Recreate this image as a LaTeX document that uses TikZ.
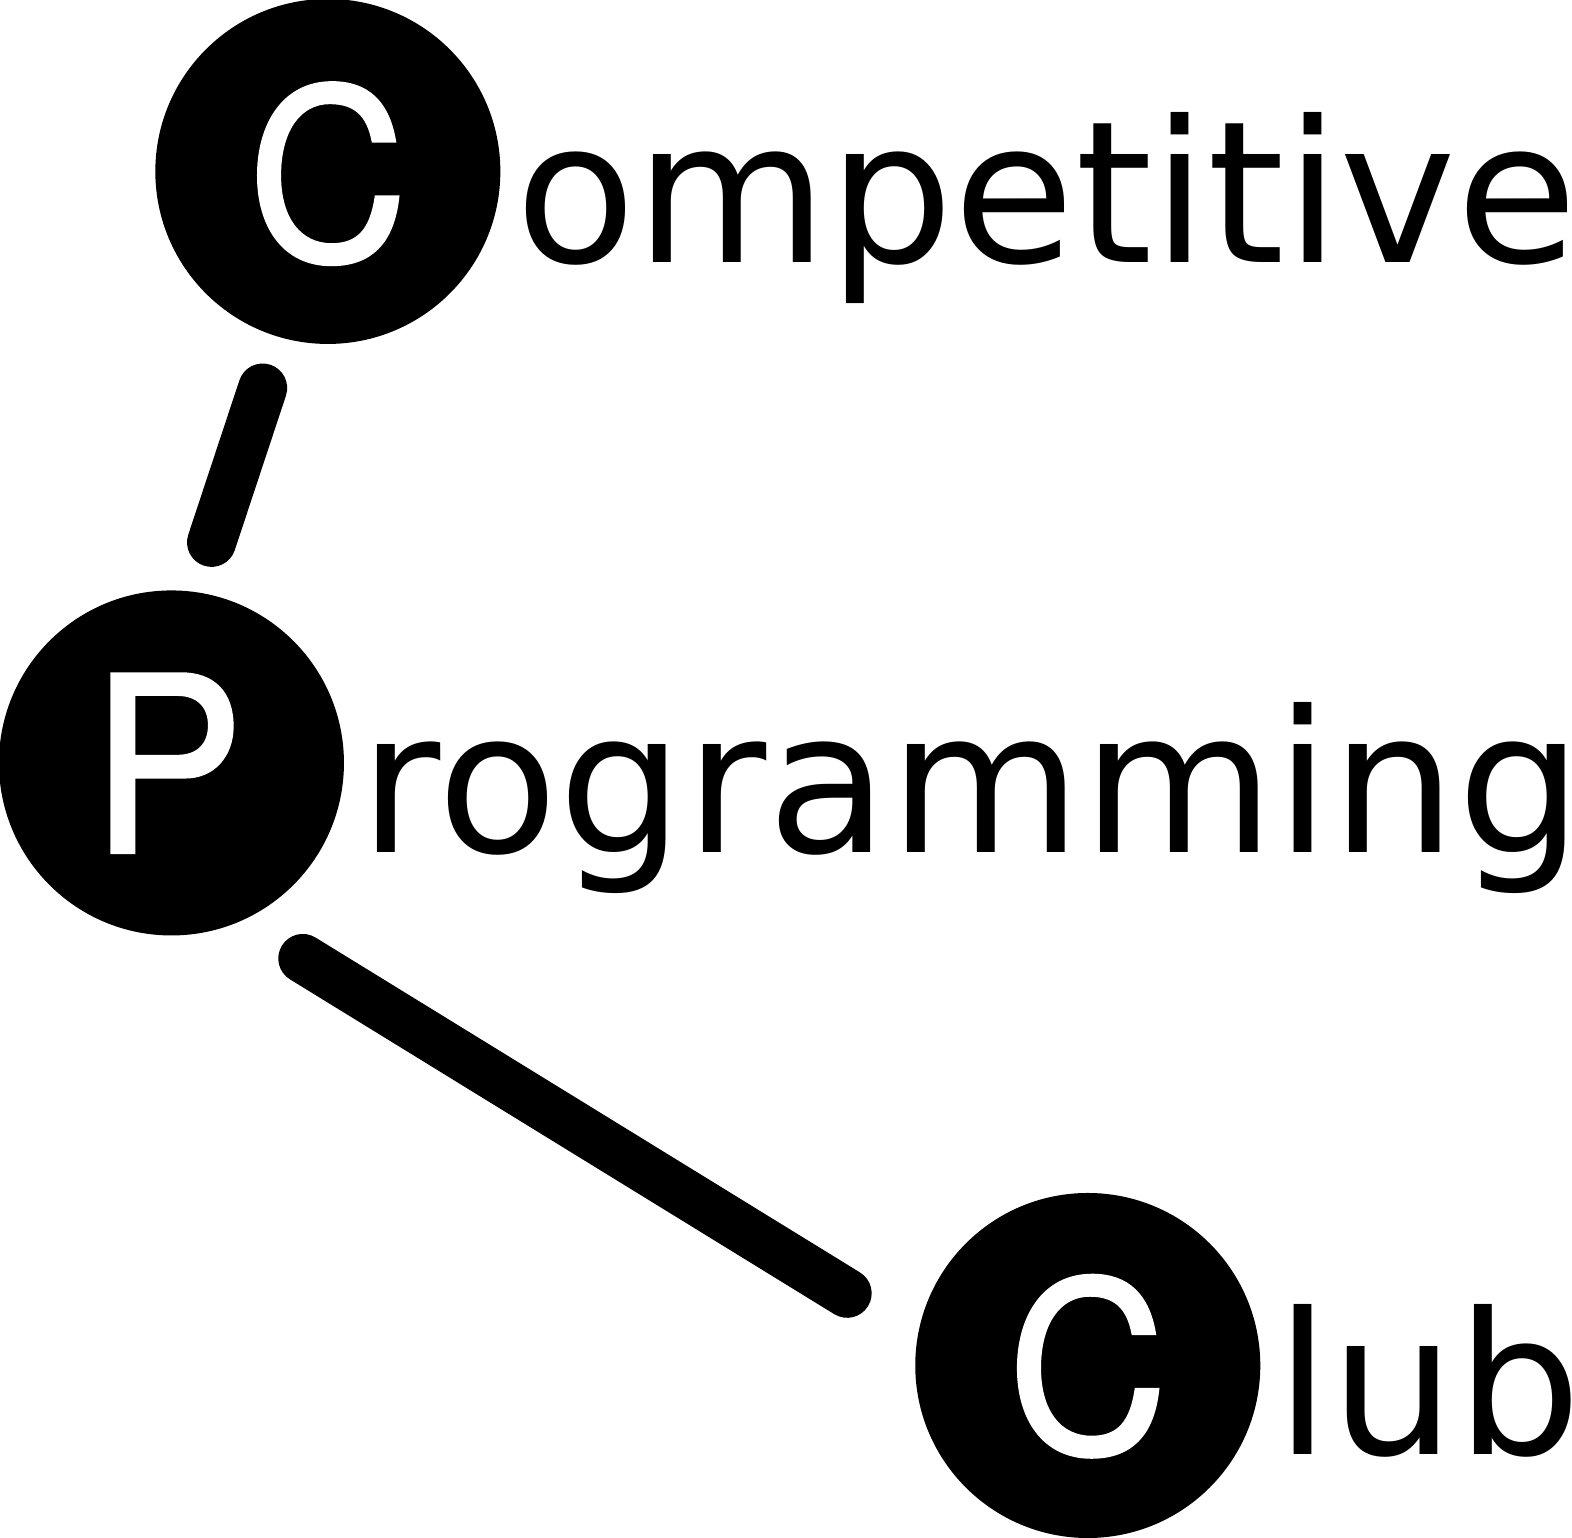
\documentclass[tikz,border=0pt]{standalone}
\usepackage{fontspec}
\setmainfont{DejaVu Sans}
\newfontfamily\initialfont[FakeStretch=0.93,FakeBold=1.5]{TeX Gyre Heros}
\newfontfamily\spacedfont[LetterSpace=0.4]{DejaVu Sans}
\tikzset{
    badge/.style = {circle, fill = black, minimum size = 3.45cm, inner sep = 0pt},
    initial/.style = {anchor = base, inner sep = 0pt, text = white, font = \initialfont\fontsize{67.5}{67.5}\selectfont},
    word/.style = {anchor = base west, inner sep = 0pt, font = \fontsize{56.2}{56.2}\selectfont}
}
\tikzset{bond/.style = {line width = 0.49cm, line cap = round}}
\begin{document}
\begin{tikzpicture}[x = 0.010025cm, y = -0.010025cm]
    \useasboundingbox (0, 0) rectangle (1568, 1534);

    \node[badge] (c1) at (327, 171) {};
    \node[badge] (p) at (171, 761) {};
    \node[badge] (c2) at (1085, 1362) {};

    \node[initial] (c1letter) at (327, 259.5) {C};
    \node[initial, font = \initialfont\fontsize{69.5}{69.5}\selectfont] (pletter) at (167, 850) {P};
    \node[initial] (c2letter) at (1085, 1449) {C};

    \node[word] (competitive) at (513, 262) {ompetitive};
    \node[word, font = \spacedfont\fontsize{56.2}{56.2}\selectfont] (programming) at (358, 850) {rogramming};
    \node[word] (club) at (1272, 1451) {lub};

    \coordinate (a1) at (262, 387);
    \coordinate (a2) at (211, 541);
    \coordinate (b1) at (302, 956);
    \coordinate (b2) at (845, 1290);
    \draw[bond] (a1) -- (a2);
    \draw[bond] (b1) -- (b2);
\end{tikzpicture}
\end{document}
